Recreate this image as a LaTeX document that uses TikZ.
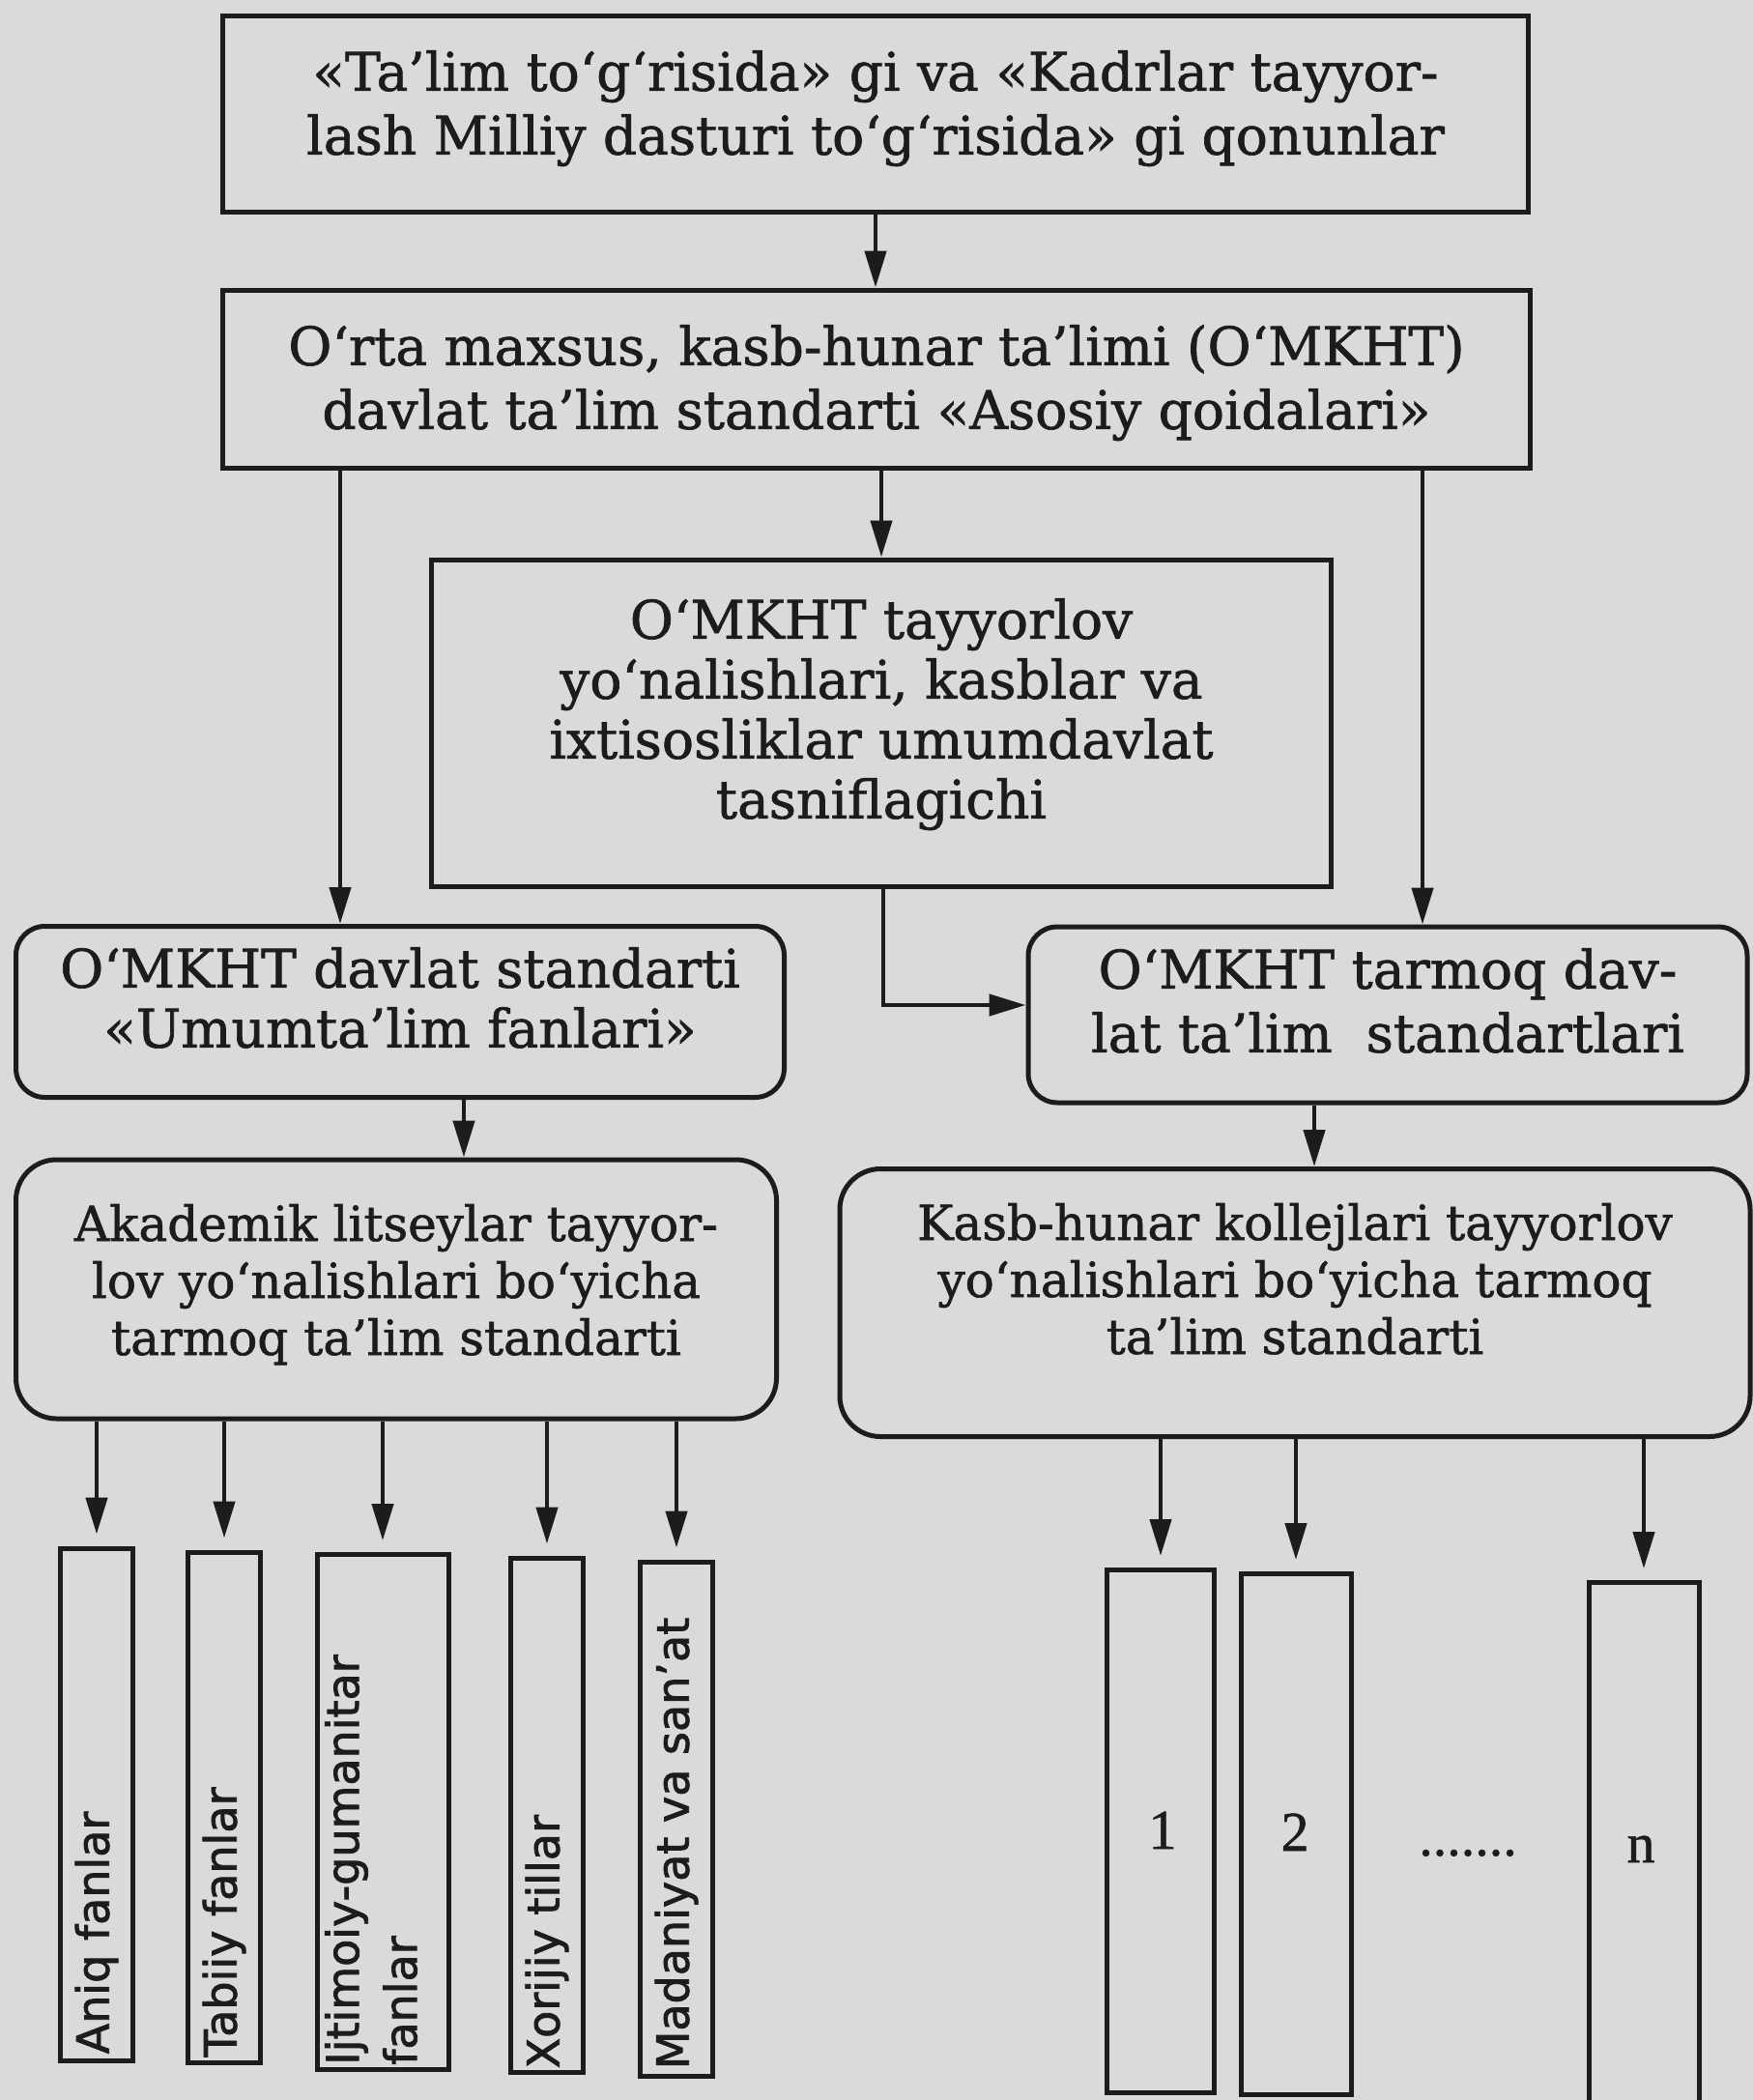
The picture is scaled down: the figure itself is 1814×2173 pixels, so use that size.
\documentclass[tikz,border=0pt]{standalone}
\usepackage{fontspec}
\setmainfont[FakeBold=1.2]{DejaVu Serif}
\newfontfamily\subjfont[FakeBold=1.8]{DejaVu Sans}
\newfontfamily\numfont[FakeBold=1]{Liberation Serif}
\usetikzlibrary{arrows.meta,calc}
\definecolor{paper}{RGB}{216,219,215}
\definecolor{ink}{RGB}{28,28,28}
\begin{document}
\begin{tikzpicture}[x=1pt,y=-1pt,
  sq/.style={draw=ink, text=ink, line width=5pt, rectangle, inner sep=0pt, align=center},
  rnd/.style={sq, rounded corners=30pt},
  rndb/.style={sq, rounded corners=42pt},
  big/.style={font=\fontsize{55}{66}\selectfont},
  mid/.style={font=\fontsize{55}{62}\selectfont},
  sml/.style={font=\fontsize{50}{59}\selectfont},
  subj/.style={text=ink, inner sep=0pt, rotate=90, anchor=west, align=left, font=\subjfont\fontsize{46}{60}\selectfont},
  num/.style={text=ink, inner sep=0pt, anchor=base, font=\numfont\fontsize{58}{60}\selectfont},
  arr/.style={draw=ink, line width=4.5pt, -{Triangle[length=38pt,width=22pt]}},
  arrs/.style={arr, shorten >=12pt}
]
\fill[paper] (0,0) rectangle (1814,2173);
\useasboundingbox (0,0) rectangle (1814,2173);

% main boxes
\node[sq, big, minimum width=1351pt, minimum height=203pt, text depth=24pt] (law) at (906,118)
  {«Ta’lim to‘g‘risida» gi va «Kadrlar tayyor-\\lash Milliy dasturi to‘g‘risida» gi qonunlar};
\node[sq, big, minimum width=1353pt, minimum height=184pt, text depth=4pt] (std) at (907,392)
  {O‘rta maxsus, kasb-hunar ta’limi (O‘MKHT)\\davlat ta’lim standarti «Asosiy qoidalari»};
\node[sq, mid, minimum width=931pt, minimum height=338pt, text depth=30pt] (cls) at (912,748)
  {O‘MKHT tayyorlov\\yo‘nalishlari, kasblar va\\ixtisosliklar umumdavlat\\tasniflagichi};
\node[rnd, mid, minimum width=795pt, minimum height=177pt, text depth=30pt] (umum) at (414,1047)
  {O‘MKHT davlat standarti\\«Umumta’lim fanlari»};
\node[rnd, big, minimum width=744pt, minimum height=182pt, text depth=30pt] (tarm) at (1436,1050)
  {O‘MKHT tarmoq dav-\\lat ta’lim\ \ standartlari};
\node[rndb, sml, minimum width=787pt, minimum height=268pt, text depth=20pt] (aka) at (410,1334)
  {Akademik litseylar tayyor-\\lov yo‘nalishlari bo‘yicha\\tarmoq ta’lim standarti};
\node[rndb, sml, minimum width=942pt, minimum height=277pt, text depth=50pt] (kasb) at (1340,1348)
  {Kasb-hunar kollejlari tayyorlov\\yo‘nalishlari bo‘yicha tarmoq\\ta’lim standarti};

% subject boxes
\node[sq, minimum width=75pt, minimum height=530pt] (aniq) at (100,1867) {};
\node[sq, minimum width=75pt, minimum height=528pt] (tab) at (232,1870) {};
\node[sq, minimum width=136pt, minimum height=533pt] (ijt) at (396,1875) {};
\node[sq, minimum width=75pt, minimum height=532pt] (xor) at (566,1878) {};
\node[sq, minimum width=75pt, minimum height=532pt] (mad) at (700,1882) {};

\node[subj] (laniq) at ([yshift=9pt]aniq.south) {Aniq fanlar};
\node[subj] (ltab) at ([yshift=8pt]tab.south) {Tabiiy fanlar};
\node[subj] (lijt) at ([yshift=7pt,xshift=-12pt]ijt.south) {Ijtimoiy-gumanitar\\fanlar};
\node[subj] (lxor) at ([yshift=6pt]xor.south) {Xorijiy tillar};
\node[subj] (lmad) at ([yshift=9pt]mad.south) {Madaniyat va san’at};

% right boxes
\node[sq, minimum width=111pt, minimum height=541pt] (k1) at (1201,1895) {};
\node[sq, minimum width=114pt, minimum height=539pt] (k2) at (1341,1898) {};
\node[sq, minimum width=114pt, minimum height=600pt, anchor=north] (kn) at (1701,1635) {};
\node[num] (n1) at (1203,1913) {1};
\node[num] (n2) at (1340,1915) {2};
\node[num] (dots) at (1519,1920) {.......};
\node[num] (nn) at (1698,1927) {n};

% connectors
\coordinate (cL) at (352,0);
\coordinate (cM) at (914,0);
\coordinate (cR) at (1472,0);
\coordinate (cA) at (480,0);
\coordinate (cK) at (1360,0);

\draw[arr] (law.south) -- (law.south |- std.north);
\draw[arr] (std.south -| cL) -- (umum.north -| cL);
\draw[arr] (std.south -| cls.north) -- (cls.north);
\draw[arr] (std.south -| cR) -- (tarm.north -| cR);
\draw[arr] (cls.south -| cM) |- ([yshift=10pt]tarm.west);
\draw[arr] (umum.south -| cA) -- (aka.north -| cA);
\draw[arr] (tarm.south -| cK) -- (kasb.north -| cK);

\foreach \s in {aniq,tab,ijt,xor,mad}
  \draw[arrs] (aka.south -| \s.north) -- (\s.north);
\foreach \s in {k1,k2,kn}
  \draw[arrs] (kasb.south -| \s.north) -- (\s.north);
\end{tikzpicture}
\end{document}
